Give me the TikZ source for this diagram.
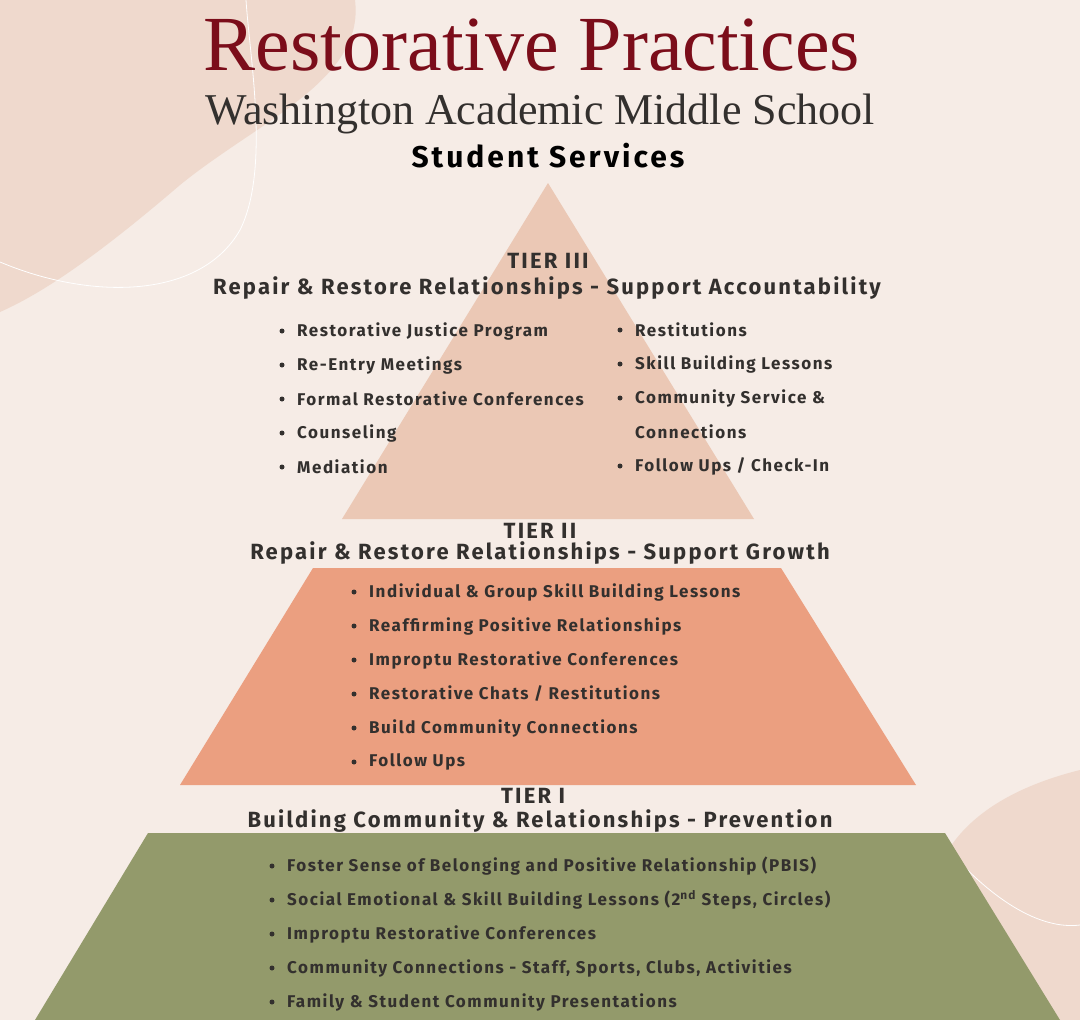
\documentclass[tikz,border=0pt]{standalone}
\usepackage{fontspec}
\setmainfont{Liberation Serif}
\newfontfamily\headfont{Fira Sans}[LetterSpace=10]
\newfontfamily\itemfont{Fira Sans}[LetterSpace=9]
\usetikzlibrary{positioning}
\definecolor{bgcol}{HTML}{F6ECE6}
\definecolor{blobcol}{HTML}{EFD9CD}
\definecolor{tierthree}{HTML}{EBC8B5}
\definecolor{tiertwo}{HTML}{EB9F80}
\definecolor{tierone}{HTML}{939A6B}
\definecolor{titlered}{HTML}{7B0D1A}
\definecolor{inkcol}{HTML}{33302E}
\tikzset{
  headline/.style={font=\headfont\bfseries\fontsize{22}{24}\selectfont, text=inkcol, inner sep=0pt},
  bulletline/.style={anchor=west, font=\itemfont\bfseries\fontsize{17}{20}\selectfont, text=inkcol, inner sep=0pt},
  dotmark/.style={circle, fill=inkcol, inner sep=0pt, minimum size=5pt}
}
\newcommand{\bulletcol}[4]{% x of dot, top y, step, list
  \foreach \txt [count=\k] in {#4} {
    \node[dotmark] at (#1,{#2+(\k-1)*#3}) {};
    \node[bulletline] at ({#1+15},{#2+(\k-1)*#3}) {\txt};
  }}
\begin{document}
\begin{tikzpicture}[x=1pt,y=-1pt]
\fill[bgcol] (0,0) rectangle (1080,1020);
\useasboundingbox (0,0) rectangle (1080,1020);
% background blobs
\fill[blobcol] (0,0) -- (355,0) .. controls (365,80) and (260,120) .. (180,185)
  .. controls (110,245) and (50,290) .. (0,312) -- cycle;
\fill[blobcol] (1080,770) .. controls (1000,790) and (940,830) .. (930,900)
  .. controls (925,960) and (960,1000) .. (980,1020) -- (1080,1020) -- cycle;
\draw[white, line width=0.8pt] (0,262) .. controls (90,300) and (200,300) .. (240,230)
  .. controls (270,170) and (250,60) .. (246,0);
\draw[white, line width=0.8pt] (940,840) .. controls (990,900) and (1040,930) .. (1080,925);
% pyramid
\fill[tierthree] (548,183) -- (754,519) -- (342,519) -- cycle;
\fill[tiertwo] (313,568) -- (781,568) -- (916,785) -- (180,785) -- cycle;
\fill[tierone] (148,833) -- (945,833) -- (1060,1020) -- (35,1020) -- cycle;
% titles
\node[text=titlered, font=\fontsize{78}{80}\selectfont, inner sep=0pt] (title) at (532,45) {Restorative Practices};
\node[text=inkcol, font=\fontsize{44}{48}\selectfont, inner sep=0pt] (school) at (540,114) {Washington Academic Middle School};
\node[text=black, font=\headfont\bfseries\fontsize{30}{32}\selectfont, inner sep=0pt] (services) at (548,156) {Student Services};
% tier III
\node[headline] (tier3) at (548,261) {TIER III};
\node[headline] (tier3sub) at (547,288) {Repair \& Restore Relationships - Support Accountability};
\bulletcol{282}{331}{34}{Restorative Justice Program, Re-Entry Meetings, Formal Restorative Conferences, Counseling, Mediation}
\bulletcol{620}{330}{34}{Restitutions, Skill Building Lessons, Community Service \&}
\node[bulletline] (conn) at (635,432) {Connections};
\node[dotmark] at (620,466) {};
\node[bulletline] (follow3) at (635,466) {Follow Ups / Check-In};
% tier II
\node[headline] (tier2) at (540,531) {TIER II};
\node[headline] (tier2sub) at (540,553) {Repair \& Restore Relationships - Support Growth};
\bulletcol{354}{592}{34}{Individual \& Group Skill Building Lessons, Reaffirming Positive Relationships, Improptu Restorative Conferences, Restorative Chats / Restitutions, Build Community Connections, Follow Ups}
% tier I
\node[headline] (tier1) at (533,796) {TIER I};
\node[headline] (tier1sub) at (540,821) {Building Community \& Relationships - Prevention};
\bulletcol{272}{866}{34}{Foster Sense of Belonging and Positive Relationship (PBIS), {Social Emotional \& Skill Building Lessons (2\textsuperscript{nd} Steps, Circles)}, Improptu Restorative Conferences, Community Connections - Staff{,} Sports{,} Clubs{,} Activities, Family \& Student Community Presentations}
\end{tikzpicture}
\end{document}
